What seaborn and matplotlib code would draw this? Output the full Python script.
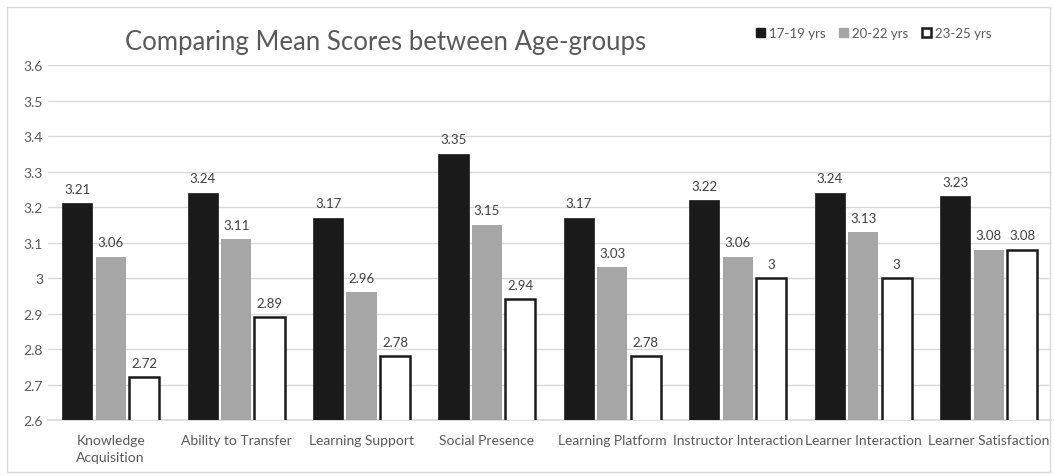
import matplotlib
matplotlib.use("Agg")
import matplotlib.pyplot as plt
import seaborn as sns
import pandas as pd
from matplotlib.patches import Rectangle

categories = ["Knowledge\nAcquisition", "Ability to Transfer", "Learning Support",
              "Social Presence", "Learning Platform", "Instructor Interaction",
              "Learner Interaction", "Learner Satisfaction"]
groups = ["17-19 yrs", "20-22 yrs", "23-25 yrs"]
s_17_19 = [3.21, 3.24, 3.17, 3.35, 3.17, 3.22, 3.24, 3.23]
s_20_22 = [3.06, 3.11, 2.96, 3.15, 3.03, 3.06, 3.13, 3.08]
s_23_25 = [2.72, 2.89, 2.78, 2.94, 2.78, 3.00, 3.00, 3.08]
yticks = [2.6, 2.7, 2.8, 2.9, 3.0, 3.1, 3.2, 3.3, 3.4, 3.5, 3.6]
ytick_labels = ["2.6", "2.7", "2.8", "2.9", "3", "3.1", "3.2", "3.3", "3.4", "3.5", "3.6"]

rows = []
for g, vals in zip(groups, [s_17_19, s_20_22, s_23_25]):
    for c, v in zip(categories, vals):
        rows.append({"cat": c, "grp": g, "val": v})
df = pd.DataFrame(rows)

sns.set_theme(style="white")
plt.rcParams['font.family'] = ['Lato', 'DejaVu Sans']

fig = plt.figure(figsize=(10.54, 4.77), dpi=100)
ax = fig.add_axes([0.0455, 0.1174, 0.952, 0.7442])

fills = ["#1a1a1a", "#a6a6a6", "#ffffff"]
sns.barplot(data=df, x="cat", y="val", hue="grp", palette=fills, ax=ax,
            width=0.8, gap=0.1, legend=False, zorder=3)

edges = ["#1a1a1a", "#a6a6a6", "#1a1a1a"]
lws = [0.5, 0.0, 1.8]
for i, cont in enumerate(ax.containers):
    for b in cont:
        b.set_edgecolor(edges[i])
        b.set_linewidth(lws[i])
    labs = [("%g" % v) for v in cont.datavalues]
    ax.bar_label(cont, labels=labs, padding=6, fontsize=9.5, color="#404040")

ax.set_ylim(2.6, 3.6)
ax.set_yticks(yticks)
ax.set_yticklabels(ytick_labels)
ax.set_xlim(-0.5, len(categories) - 0.5)
ax.grid(axis="y", color="#d9d9d9", linewidth=1, zorder=0)
ax.set_axisbelow(True)
for sp in ["top", "right", "left"]:
    ax.spines[sp].set_visible(False)
ax.spines["bottom"].set_color("#d9d9d9")
ax.tick_params(axis="both", colors="#595959", labelsize=10, length=0)
ax.tick_params(axis="x", pad=10)
for t in ax.get_xticklabels():
    t.set_linespacing(1.55)
ax.set_xlabel("")
ax.set_ylabel("")

fig.text(0.366, 0.911, "Comparing Mean Scores between Age-groups", ha="center",
         va="center", fontsize=18.5, color="#595959")

handles = [Rectangle((0, 0), 1, 1, facecolor=fills[0], edgecolor=edges[0]),
           Rectangle((0, 0), 1, 1, facecolor=fills[1], edgecolor=fills[1]),
           Rectangle((0, 0), 1, 1, facecolor=fills[2], edgecolor=edges[2], linewidth=1.8)]
fig.legend(handles, groups, loc="center", bbox_to_anchor=(0.829, 0.928), ncol=3,
           frameon=False, fontsize=9.5, labelcolor="#595959", handlelength=0.7,
           handleheight=0.7, handletextpad=0.3, columnspacing=1.0)

fig.add_artist(Rectangle((0.0066, 0.008), 0.99, 0.975, transform=fig.transFigure,
                         fill=False, edgecolor="#d9d9d9", linewidth=1))

fig.savefig("out.png", dpi=100)
